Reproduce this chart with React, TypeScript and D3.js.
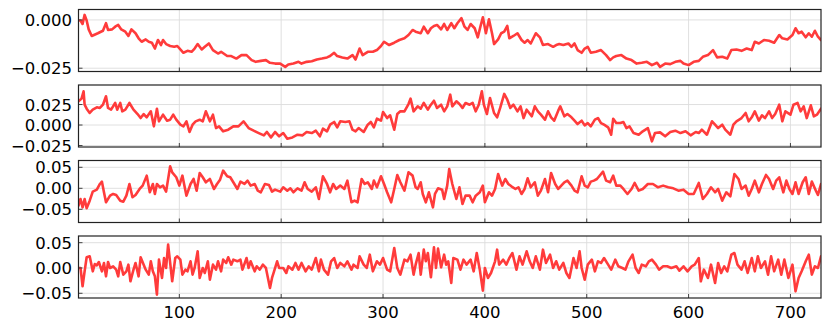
import React from 'react';
import * as d3 from 'd3';

// ---------- data ----------
const xTicks = [100, 200, 300, 400, 500, 600, 700];

const xs1 = [1,3,5,7,9,11,14,20,25,28,30,34,37,40,43,47,50,53,57,60,63,67,70,73,76,79,82,84,87,91,95,98,101,104,108,112,115,118,122,125,129,133,138,141,147,151,156,161,166,171,175,180,185,189,194,199,204,207,212,217,220,225,230,235,240,245,248,252,255,260,265,270,273,277,280,285,290,294,298,301,306,311,316,321,325,329,332,337,340,344,347,350,353,357,360,363,367,370,373,377,380,383,386,390,393,396,398,401,404,407,409,413,416,419,422,424,428,432,436,439,442,445,450,454,457,462,467,470,473,477,482,485,488,491,495,498,501,504,509,514,519,523,526,529,534,539,544,549,554,559,564,569,572,577,582,587,592,595,600,605,610,614,619,624,628,633,638,642,647,652,657,662,665,669,674,679,684,689,692,697,702,705,708,711,715,718,721,724,727,730];
const ys1 = [-0.0003,-0.0003,-0.0021,0.0026,-0.0003,-0.0049,-0.0083,-0.0069,-0.0056,-0.0017,-0.0052,-0.0049,-0.0035,-0.0026,-0.0049,-0.0061,-0.0083,-0.0049,-0.0069,-0.0095,-0.0113,-0.0101,-0.0113,-0.0118,-0.0148,-0.0104,-0.0130,-0.0104,-0.0125,-0.0135,-0.0139,-0.0135,-0.0153,-0.0170,-0.0160,-0.0165,-0.0148,-0.0125,-0.0153,-0.0139,-0.0122,-0.0156,-0.0174,-0.0165,-0.0187,-0.0187,-0.0200,-0.0182,-0.0182,-0.0208,-0.0217,-0.0212,-0.0208,-0.0222,-0.0226,-0.0226,-0.0243,-0.0231,-0.0226,-0.0217,-0.0226,-0.0217,-0.0214,-0.0205,-0.0200,-0.0194,-0.0187,-0.0170,-0.0187,-0.0194,-0.0200,-0.0182,-0.0205,-0.0148,-0.0182,-0.0165,-0.0165,-0.0156,-0.0135,-0.0113,-0.0130,-0.0118,-0.0104,-0.0095,-0.0078,-0.0052,-0.0061,-0.0069,-0.0035,-0.0069,-0.0043,-0.0031,-0.0026,-0.0049,-0.0021,-0.0052,-0.0017,-0.0043,-0.0017,0.0009,-0.0035,-0.0052,-0.0021,-0.0043,-0.0090,-0.0026,0.0014,-0.0069,0.0003,-0.0069,-0.0125,-0.0101,-0.0069,-0.0061,-0.0031,-0.0095,-0.0083,-0.0069,-0.0104,-0.0118,-0.0104,-0.0122,-0.0069,-0.0090,-0.0130,-0.0125,-0.0139,-0.0130,-0.0125,-0.0130,-0.0122,-0.0139,-0.0122,-0.0156,-0.0170,-0.0148,-0.0139,-0.0170,-0.0165,-0.0156,-0.0182,-0.0208,-0.0194,-0.0187,-0.0182,-0.0200,-0.0208,-0.0226,-0.0222,-0.0217,-0.0234,-0.0222,-0.0243,-0.0226,-0.0229,-0.0217,-0.0212,-0.0226,-0.0234,-0.0217,-0.0212,-0.0191,-0.0182,-0.0156,-0.0194,-0.0191,-0.0200,-0.0156,-0.0153,-0.0160,-0.0148,-0.0156,-0.0113,-0.0122,-0.0104,-0.0108,-0.0118,-0.0078,-0.0095,-0.0101,-0.0078,-0.0043,-0.0069,-0.0061,-0.0090,-0.0069,-0.0087,-0.0056,-0.0087,-0.0104];

const xs2 = [1,4,6,7,9,12,15,19,22,25,28,30,33,37,39,42,44,47,51,55,59,62,65,68,72,75,78,80,84,88,91,94,97,101,104,107,110,113,116,120,123,126,130,133,136,139,143,148,153,158,163,168,173,178,183,186,190,194,198,202,206,211,216,221,225,230,234,238,241,245,248,252,255,258,263,267,270,273,276,281,285,288,291,294,298,300,304,307,311,314,317,321,325,327,330,334,337,340,344,347,350,353,357,360,363,366,368,372,375,378,381,385,388,391,394,397,399,402,405,409,412,415,419,422,425,428,432,435,438,441,446,449,452,455,459,462,465,468,472,474,478,481,485,488,491,495,498,501,504,508,511,514,517,521,524,526,529,533,536,539,542,546,551,555,560,564,567,572,577,582,587,592,597,602,607,610,613,618,623,626,629,633,636,641,644,647,652,656,659,662,665,669,672,675,679,682,685,689,692,695,700,703,707,710,713,716,720,723,726,730];
const ys2 = [0.0289,0.0322,0.0411,0.0248,0.0199,0.0147,0.0187,0.0216,0.0208,0.0248,0.0350,0.0208,0.0187,0.0269,0.0187,0.0269,0.0167,0.0187,0.0269,0.0187,0.0134,0.0085,0.0134,0.0094,0.0167,-0.0016,0.0199,0.0045,0.0126,0.0053,0.0065,0.0126,0.0065,0.0004,-0.0016,0.0045,-0.0085,0.0004,0.0045,0.0065,0.0045,0.0167,0.0045,0.0126,-0.0037,-0.0016,-0.0077,-0.0057,-0.0016,-0.0016,0.0045,-0.0037,-0.0069,-0.0098,-0.0126,-0.0085,-0.0151,-0.0085,-0.0138,-0.0098,-0.0167,-0.0151,-0.0118,-0.0126,-0.0085,-0.0098,-0.0069,-0.0138,-0.0045,-0.0077,0.0004,0.0037,-0.0028,0.0045,0.0037,0.0045,-0.0057,-0.0077,-0.0037,-0.0085,0.0004,0.0037,-0.0028,0.0077,0.0053,0.0159,0.0085,0.0118,-0.0057,0.0134,0.0167,0.0167,0.0256,0.0322,0.0167,0.0228,0.0199,0.0269,0.0187,0.0248,0.0297,0.0208,0.0248,0.0167,0.0228,0.0370,0.0228,0.0289,0.0256,0.0208,0.0269,0.0248,0.0269,0.0167,0.0248,0.0411,0.0248,0.0134,0.0330,0.0147,0.0094,0.0208,0.0379,0.0309,0.0208,0.0248,0.0167,0.0228,0.0085,0.0187,0.0106,0.0228,0.0167,0.0126,0.0065,0.0167,0.0094,0.0053,0.0175,0.0228,0.0106,0.0134,0.0094,0.0053,0.0012,0.0053,-0.0004,0.0024,-0.0016,0.0065,0.0085,0.0024,0.0004,-0.0028,-0.0118,0.0077,0.0024,0.0024,0.0037,-0.0037,-0.0016,-0.0098,-0.0118,-0.0077,-0.0037,-0.0199,-0.0098,-0.0090,-0.0138,-0.0085,-0.0069,-0.0098,-0.0077,-0.0126,-0.0085,-0.0098,-0.0057,-0.0118,0.0045,0.0004,-0.0037,0.0004,-0.0057,-0.0118,0.0004,0.0045,0.0085,0.0147,0.0045,0.0094,0.0167,0.0053,0.0118,0.0085,0.0167,0.0085,0.0134,0.0248,0.0045,0.0167,0.0126,0.0248,0.0269,0.0167,0.0228,0.0085,0.0240,0.0106,0.0126,0.0199];

const xs3 = [1,3,5,7,9,12,15,19,22,24,26,28,32,35,38,42,45,48,51,54,57,61,64,68,71,74,76,78,81,84,87,91,93,97,100,103,107,111,114,117,120,123,126,130,134,137,140,143,147,150,153,157,160,164,167,170,174,177,180,184,188,191,194,199,202,206,209,212,216,220,223,226,230,234,237,241,245,248,251,254,258,262,265,269,272,275,279,282,285,289,291,294,298,301,304,308,311,314,317,321,325,329,332,334,337,339,342,345,349,351,354,358,360,363,365,368,372,375,378,381,385,388,391,395,398,400,404,407,410,413,417,420,423,426,430,433,436,439,442,445,449,452,455,459,462,465,469,472,475,478,481,485,488,491,495,498,501,504,507,510,516,519,523,526,529,533,536,540,544,547,551,555,560,565,570,575,580,585,590,595,600,605,610,614,618,622,626,629,633,637,641,645,649,652,656,659,662,665,669,672,676,679,683,686,689,693,696,699,702,705,708,712,715,718,721,725,727,730];
const ys3 = [-0.0413,-0.0254,-0.0453,-0.0254,-0.0476,-0.0294,-0.0079,-0.0032,0.0103,0.0159,-0.0095,-0.0333,-0.0175,-0.0135,-0.0159,-0.0294,-0.0318,-0.0175,0.0103,-0.0214,-0.0159,-0.0016,0.0064,0.0302,-0.0095,0.0103,-0.0135,0.0103,0.0024,0.0064,-0.0079,0.0524,0.0381,0.0262,0.0064,0.0302,-0.0175,0.0103,0.0222,-0.0056,0.0365,0.0262,0.0143,0.0222,-0.0016,0.0103,0.0206,0.0421,0.0286,0.0262,0.0143,-0.0016,0.0159,0.0103,0.0183,0.0064,0.0103,-0.0056,-0.0095,0.0103,0.0079,-0.0079,-0.0032,-0.0079,0.0024,-0.0056,0,-0.0095,0,-0.0056,0.0143,-0.0016,-0.0079,0.0024,-0.0254,0.0286,0.0103,-0.0095,0.0103,-0.0016,0.0064,-0.0016,0.0183,-0.0333,-0.0294,-0.0333,0.0222,0.0103,0.0143,-0.0016,0.0183,0.0024,0.0286,0.0103,-0.0095,-0.0333,-0.0016,0.0318,0.0143,-0.0056,0.0381,0.0302,0.0024,-0.0016,0.0143,-0.0135,-0.0333,-0.0095,-0.0453,-0.0135,0,-0.0032,-0.0254,0.0064,0.0461,0.0103,-0.0254,0.0024,-0.0373,-0.0175,-0.0175,-0.0333,-0.0175,-0.0095,0.0064,-0.0333,-0.0095,-0.0175,-0.0016,0.0341,0.0064,0.0222,0.0103,0.0048,-0.0016,0.0024,-0.0135,-0.0016,0.0238,0.0024,0.0143,-0.0175,-0.0056,0.0222,-0.0095,0.0365,0.0103,-0.0016,0.0064,0.0143,0.0183,0.0064,-0.0056,-0.0095,0.0286,0.0064,0.0024,0.0159,0.0183,0.0222,0.0397,0.0183,0.0143,0.0302,0.0064,0.0064,-0.0016,-0.0135,-0.0016,0.0127,-0.0056,-0.0016,0.0103,0.0103,0.0024,0.0064,0.0024,0,-0.0056,-0.0032,-0.0135,-0.0135,0.0127,-0.0254,-0.0135,0.0024,-0.0095,-0.0016,-0.0294,-0.0095,-0.0191,0.0341,0.0222,-0.0016,0.0064,-0.0175,-0.0016,0.0183,-0.0095,0.0103,0.0318,0.0222,-0.0016,0.0183,0.0262,-0.0095,0.0183,-0.0016,-0.0135,0.0143,-0.0135,0.0143,0.0262,-0.0135,0.0159,-0.0056,-0.0159,0.0103];

const xs4 = [1,3,5,7,9,12,15,17,19,21,24,26,28,30,32,35,38,40,42,45,48,50,52,55,57,60,62,65,67,70,72,74,76,78,80,83,85,87,89,91,93,96,98,101,103,106,108,111,113,115,118,120,123,125,128,130,133,136,138,141,143,146,148,151,153,157,160,162,166,168,170,174,176,179,182,185,189,191,193,196,198,202,205,207,211,214,217,220,224,227,230,234,237,239,242,246,249,252,255,258,262,265,269,271,275,277,281,284,287,290,294,297,300,304,307,311,314,317,321,324,327,330,332,335,337,340,342,344,347,350,352,354,357,360,362,364,367,369,373,376,379,382,386,389,392,395,398,400,403,406,410,412,414,418,421,424,427,431,434,437,441,444,447,450,454,457,460,464,467,470,473,477,480,483,487,490,493,495,498,501,505,508,511,514,517,521,524,528,531,535,538,541,545,548,551,554,558,561,564,568,571,575,579,583,588,591,595,599,603,606,610,612,615,619,622,626,629,632,635,638,642,645,648,652,655,658,662,665,668,671,675,678,681,684,688,691,694,698,702,705,708,711,715,718,721,724,727,730];
const ys4 = [0,0,-0.0362,-0.0066,0.0211,0.0230,-0.0066,0.0079,0.0053,0.0118,-0.0066,0.0099,-0.0165,0.0118,0,0.0033,-0.0033,-0.0165,0.0118,-0.0132,-0.0066,0.0066,-0.0263,-0.0033,0.0099,-0.0165,0.0211,0.0066,-0.0033,-0.0132,0.0132,-0.0066,-0.0165,-0.0526,0.0165,-0.0197,0.0197,0,0.0461,0.0099,-0.0263,0.0197,0.0230,0.0165,-0.0132,-0.0033,-0.0066,0.0132,-0.0132,0,0.0329,-0.0197,0,-0.0099,0.0132,-0.0230,0.0066,-0.0033,0.0132,-0.0066,0.0165,0.0099,0.0211,0.0066,0.0165,0.0132,0.0165,-0.0033,0.0197,0,0.0132,-0.0066,0.0033,-0.0033,0.0066,0,-0.0395,-0.0197,-0.0066,0.0132,0,0,-0.0099,0.0033,-0.0033,0.0099,-0.0033,0.0099,-0.0066,0.0033,-0.0033,0.0197,-0.0066,0.0165,-0.0033,-0.0132,0.0132,0.0197,0,0.0099,0.0033,0.0132,-0.0033,0.0066,0,0.0230,0.0066,0,0.0263,-0.0066,0.0132,0.0066,0.0197,-0.0033,-0.0066,0.0395,0,-0.0132,0.0165,0.0132,0.0263,-0.0132,0.0066,0.0296,-0.0132,0.0362,0.0132,0.0296,-0.0184,0.0408,0,0.0382,0.0013,0.0263,0.0066,0.0132,-0.0296,0.0197,0.0165,-0.0033,0.0165,0.0066,0.0165,-0.0066,0.0296,-0.0033,-0.0447,0,-0.0197,-0.0099,0.0132,0.0362,0.0066,0.0165,0.0066,0.0197,0.0296,-0.0033,0.0230,0.0066,0.0329,0.0132,0,0.0230,-0.0033,0.0362,0.0099,0.0263,0,0.0132,-0.0033,0.0099,-0.0099,-0.0197,0.0197,0,0.0329,0,-0.0230,0.0066,0.0165,-0.0066,0.0132,0.0099,0.0197,0.0066,-0.0033,0.0165,0.0033,0,-0.0033,0.0132,0.0263,0,-0.0099,0.0066,0.0033,0.0132,0.0165,0.0066,-0.0033,0.0033,0.0033,0,0.0033,-0.0053,0.0033,-0.0066,0.0033,0.0066,0.0197,-0.0263,-0.0033,-0.0197,0.0066,-0.0296,0.0099,-0.0099,0.0033,-0.0066,0.0263,0.0296,0.0066,-0.0033,0.0132,-0.0099,0.0197,-0.0066,0.0230,0,0.0132,-0.0132,0.0230,-0.0066,0.0165,-0.0132,0.0165,-0.0197,0.0066,-0.0461,-0.0197,-0.0066,0.0132,0.0263,-0.0132,0.0033,0,0.0230];

const yTicks1 = [0, -0.025];
const yLabels1 = ['0.000', '\u22120.025'];
const yTicks2 = [0.025, 0, -0.025];
const yLabels2 = ['0.025', '0.000', '\u22120.025'];
const yTicks3 = [0.05, 0, -0.05];
const yLabels3 = ['0.05', '0.00', '\u22120.05'];
const yTicks4 = [0.05, 0, -0.05];
const yLabels4 = ['0.05', '0.00', '\u22120.05'];

// ---------- layout ----------
const W = 830;
const H = 330;
const LEFT = 78.5;
const RIGHT = 821;
const PH = 62;
const FONT = 'DejaVu Sans, sans-serif';

const panels = [
  { xs: xs1, ys: ys1, top: 9.5, domain: [-0.0267, 0.0054], ticks: yTicks1, labels: yLabels1 },
  { xs: xs2, ys: ys2, top: 85, domain: [-0.0268, 0.0488], ticks: yTicks2, labels: yLabels2 },
  { xs: xs3, ys: ys3, top: 160.5, domain: [-0.0814, 0.0662], ticks: yTicks3, labels: yLabels3 },
  { xs: xs4, ys: ys4, top: 236, domain: [-0.0593, 0.0632], ticks: yTicks4, labels: yLabels4 },
];

export default function App() {
  const x = d3.scaleLinear().domain([1, 730]).range([LEFT, RIGHT]);
  return (
    <svg width={W} height={H} style={{ position: 'absolute', left: 0, top: 0, background: '#fff' }}>
      <defs>
        {panels.map((p, i) => (
          <clipPath id={`clip${i}`} key={i}>
            <rect x={LEFT} y={p.top} width={RIGHT - LEFT} height={PH} />
          </clipPath>
        ))}
      </defs>
      {panels.map((p, i) => {
        const bottom = p.top + PH;
        const y = d3.scaleLinear().domain(p.domain).range([bottom, p.top]);
        const n = Math.min(p.xs.length, p.ys.length);
        const pts: [number, number][] = d3.range(n).map((k) => [p.xs[k], p.ys[k]]);
        const line = d3.line<[number, number]>().x((d) => x(d[0])).y((d) => y(d[1]));
        return (
          <g key={i}>
            {xTicks.map((t) => (
              <line key={'gx' + t} x1={x(t)} x2={x(t)} y1={p.top} y2={bottom} stroke="#dcdcdc" strokeWidth={0.9} />
            ))}
            {p.ticks.map((t) => (
              <line key={'gy' + t} x1={LEFT} x2={RIGHT} y1={y(t)} y2={y(t)} stroke="#dcdcdc" strokeWidth={0.9} />
            ))}
            <path d={line(pts) || ''} fill="none" stroke="#ff3030" strokeOpacity={0.95} strokeWidth={2.6} strokeLinejoin="round" strokeLinecap="round" clipPath={`url(#clip${i})`} />
            {xTicks.map((t) => (
              <line key={'tx' + t} x1={x(t)} x2={x(t)} y1={bottom} y2={bottom - 4} stroke="#444" strokeWidth={1} />
            ))}
            {p.ticks.map((t) => (
              <line key={'ty' + t} x1={LEFT} x2={LEFT + 4} y1={y(t)} y2={y(t)} stroke="#444" strokeWidth={1} />
            ))}
            <rect x={LEFT} y={p.top} width={RIGHT - LEFT} height={PH} fill="none" stroke="#222" strokeWidth={1.2} />
            {p.ticks.map((t, k) => (
              <text key={'ly' + t} x={LEFT - 6.5} y={y(t) + 6} textAnchor="end" fontFamily={FONT} fontSize={16.5} fill="#000">
                {p.labels[k]}
              </text>
            ))}
            {i === panels.length - 1 &&
              xTicks.map((t) => (
                <text key={'lx' + t} x={x(t)} y={bottom + 19.5} textAnchor="middle" fontFamily={FONT} fontSize={16.5} fill="#000">
                  {String(t)}
                </text>
              ))}
          </g>
        );
      })}
    </svg>
  );
}
